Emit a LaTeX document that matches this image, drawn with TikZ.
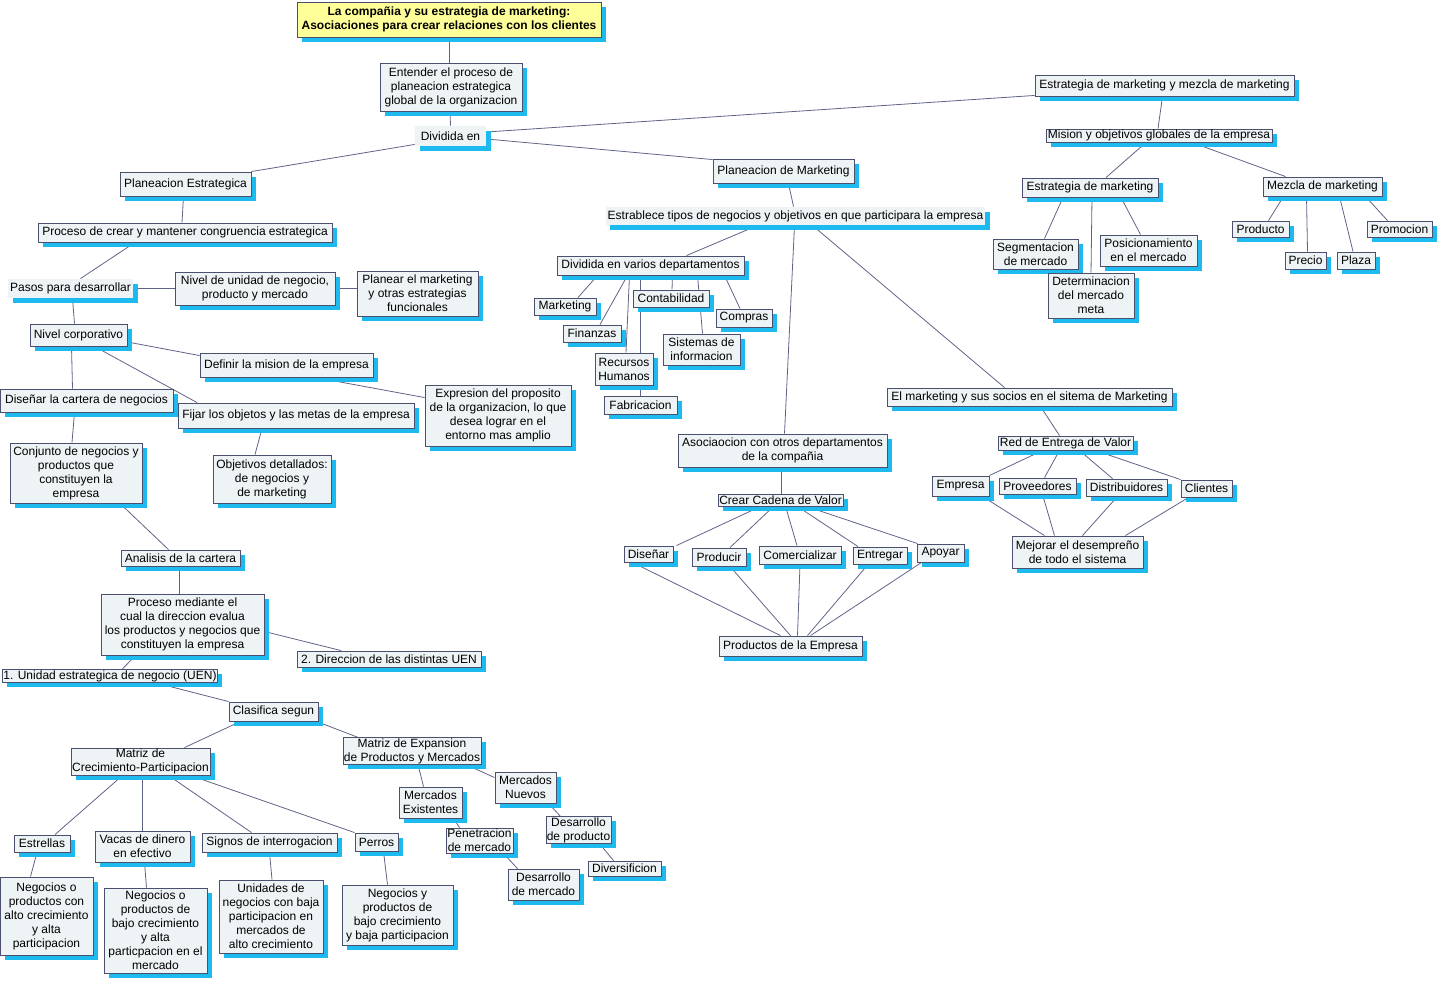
\documentclass[tikz,border=0pt]{standalone}
\usepackage{fontspec}
\setmainfont{Liberation Sans}
\usetikzlibrary{shadows,backgrounds}
\definecolor{shadowcol}{RGB}{28,186,238}
\definecolor{bordercol}{RGB}{75,80,110}
\definecolor{fillcol}{RGB}{238,243,246}
\definecolor{linecol}{RGB}{95,100,135}
\definecolor{titlefill}{RGB}{255,255,153}
\tikzset{
  cbox/.style={draw=bordercol, line width=0.9pt, fill=fillcol,
    drop shadow={shadow xshift=4.5pt, shadow yshift=-4.5pt, fill=shadowcol, opacity=1},
    inner sep=2pt, align=center, font=\fontsize{12}{14}\selectfont},
  tightbox/.style={cbox, inner sep=0.6pt},
  linkp/.style={cbox, draw=none},
  titlebox/.style={cbox, fill=titlefill, font=\bfseries\fontsize{12}{14}\selectfont},
  wh/.style n args={2}{minimum width=#1pt, minimum height=#2pt},
  conn/.style={draw=linecol, line width=0.8pt}
}
\newcommand\cmlink[4]{\draw[conn] ([xshift=#2pt]#1.south) -- ([xshift=#4pt]#3.north);}
\begin{document}
\begin{tikzpicture}[x=1pt,y=-1pt]
\useasboundingbox (0,0) rectangle (1439,980);
% ---- top
\node[titlebox, wh={304}{35}] (title) at (449,19.5) {La compañia y su estrategia de marketing:\\Asociaciones para crear relaciones con los clientes};
\node[cbox, wh={142}{48}] (ent) at (451,87) {Entender el proceso de\\planeacion estrategica\\global de la organizacion};
\node[linkp, wh={71}{20}] (div) at (450.5,136) {Dividida en};
% ---- right top
\node[cbox, wh={259}{21}] (emm) at (1164.5,85.5) {Estrategia de marketing y mezcla de marketing};
\node[tightbox, wh={226}{13}] (mis) at (1159,135.5) {Mision y objetivos globales de la empresa};
\node[cbox, wh={136}{19}] (estmk) at (1090,187.5) {Estrategia de marketing};
\node[cbox, wh={119}{19}] (mez) at (1322.5,186.5) {Mezcla de marketing};
\node[cbox, wh={85}{30}] (seg) at (1035.5,254) {Segmentacion\\de mercado};
\node[cbox, wh={86}{45}] (det) at (1091,295.5) {Determinacion\\del mercado\\meta};
\node[cbox, wh={97}{31}] (pos) at (1148.5,250.5) {Posicionamiento\\en el mercado};
\node[cbox, wh={57}{16}] (prod) at (1260.5,229) {Producto};
\node[cbox, wh={41}{17}] (prec) at (1305.5,260.5) {Precio};
\node[cbox, wh={38}{17}] (plaza) at (1356,260.5) {Plaza};
\node[cbox, wh={65}{16}] (promo) at (1399.5,229) {Promocion};
% ---- left
\node[cbox, wh={131}{24}] (pe) at (185.5,184) {Planeacion Estrategica};
\node[cbox, wh={294}{19}] (proc) at (185,232.5) {Proceso de crear y mantener congruencia estrategica};
\node[linkp, wh={125}{19}] (pasos) at (70.5,288.5) {Pasos para desarrollar};
\node[cbox, wh={160}{33}] (niv) at (255,288.5) {Nivel de unidad de negocio,\\producto y mercado};
\node[cbox, wh={121}{45}] (plan) at (417.5,293.5) {Planear el marketing\\y otras estrategias\\funcionales};
\node[cbox, wh={97}{22}] (ncorp) at (78.5,335) {Nivel corporativo};
\node[cbox, wh={173}{24}] (def) at (286.5,365) {Definir la mision de la empresa};
\node[cbox, wh={146}{61}] (expr) at (498,415.5) {Expresion del proposito\\de la organizacion, lo que\\desea lograr en el\\entorno mas amplio};
\node[cbox, wh={173}{23}] (dis) at (86.5,400.5) {Diseñar la cartera de negocios};
\node[cbox, wh={236}{25}] (fij) at (296,415.5) {Fijar los objetos y las metas de la empresa};
\node[cbox, wh={132}{60}] (conj) at (76,473) {Conjunto de negocios y\\productos que\\constituyen la\\empresa};
\node[cbox, wh={118}{48}] (obj) at (272,479) {Objetivos detallados:\\de negocios y\\de marketing};
\node[cbox, wh={119}{16}] (anal) at (180.5,558) {Analisis de la cartera};
\node[cbox, wh={163}{61}] (pmed) at (182.5,624.5) {Proceso mediante el\\cual la direccion evalua\\los productos y negocios que\\constituyen la empresa};
\node[cbox, wh={184}{16}] (dir) at (389,659) {2. Direccion de las distintas UEN};
\node[tightbox, wh={214}{12}] (uen) at (110,676) {1. Unidad estrategica de negocio (UEN)};
\node[cbox, wh={89}{19}] (clas) at (273.5,711.5) {Clasifica segun};
\node[tightbox, wh={139}{27}] (mcp) at (140.5,761.5) {Matriz de\\Crecimiento-Participacion};
\node[tightbox, wh={138}{26}] (mexp) at (412,751) {Matriz de Expansion\\de Productos y Mercados};
\node[cbox, wh={63}{31}] (mex) at (430.5,802.5) {Mercados\\Existentes};
\node[cbox, wh={61}{31}] (mnu) at (525.5,787.5) {Mercados\\Nuevos};
\node[tightbox, wh={67}{25}] (pen) at (479.5,840.5) {Penetracion\\de mercado};
\node[tightbox, wh={65}{26}] (dprod) at (578.5,830) {Desarrollo\\de producto};
\node[cbox, wh={71}{31}] (dmer) at (543.5,884.5) {Desarrollo\\de mercado};
\node[cbox, wh={73}{15}] (diver) at (624.5,868.5) {Diversificion};
\node[cbox, wh={56}{17}] (estr) at (42,843.5) {Estrellas};
\node[cbox, wh={95}{31}] (vac) at (142.5,846.5) {Vacas de dinero\\en efectivo};
\node[cbox, wh={135}{19}] (sig) at (269.5,842.5) {Signos de interrogacion};
\node[cbox, wh={43}{18}] (per) at (376.5,842) {Perros};
\node[cbox, wh={93}{78}] (na) at (46.5,916) {Negocios o\\productos con\\alto crecimiento\\y alta\\participacion};
\node[cbox, wh={103}{85}] (nb) at (155.5,930.5) {Negocios o\\productos de\\bajo crecimiento\\y alta\\particpacion en el\\mercado};
\node[cbox, wh={104}{73}] (nc) at (271,916.5) {Unidades de\\negocios con baja\\participacion en\\mercados de\\alto crecimiento};
\node[cbox, wh={111}{60}] (nd) at (397.5,915) {Negocios y\\productos de\\bajo crecimiento\\y baja participacion};
% ---- middle
\node[cbox, wh={141}{24}] (pmk) at (783.5,171) {Planeacion de Marketing};
\node[linkp, wh={379}{18}] (estb) at (795.5,216) {Estrablece tipos de negocios y objetivos en que participara la empresa};
\node[cbox, wh={187}{19}] (dep) at (650.5,265.5) {Dividida en varios departamentos};
\node[cbox, wh={62}{17}] (mkt) at (565,306.5) {Marketing};
\node[cbox, wh={58}{17}] (fin) at (592,333.5) {Finanzas};
\node[cbox, wh={76}{17}] (cont) at (671,298.5) {Contabilidad};
\node[cbox, wh={56}{18}] (comp) at (744,318) {Compras};
\node[cbox, wh={58}{32}] (rh) at (624,369) {Recursos\\Humanos};
\node[cbox, wh={77}{31}] (sis) at (701.5,349.5) {Sistemas de\\informacion};
\node[cbox, wh={73}{18}] (fab) at (640.5,405) {Fabricacion};
\node[cbox, wh={209}{33}] (asoc) at (782.5,450.5) {Asociaocion con otros departamentos\\de la compañia};
\node[tightbox, wh={125}{12}] (ccv) at (780.5,500) {Crear Cadena de Valor};
\node[cbox, wh={49}{16}] (dsn) at (648.5,554) {Diseñar};
\node[cbox, wh={54}{18}] (pdc) at (719,557) {Producir};
\node[cbox, wh={82}{18}] (com) at (800,555) {Comercializar};
\node[cbox, wh={54}{17}] (entg) at (880,555.5) {Entregar};
\node[cbox, wh={47}{18}] (apo) at (940.5,553) {Apoyar};
\node[cbox, wh={143}{20}] (pde) at (790.5,646) {Productos de la Empresa};
% ---- right middle
\node[cbox, wh={285}{18}] (soc) at (1029.5,397) {El marketing y sus socios en el sitema de Marketing};
\node[tightbox, wh={135}{14}] (red) at (1065.5,443) {Red de Entrega de Valor};
\node[cbox, wh={57}{20}] (emp) at (960.5,486) {Empresa};
\node[cbox, wh={77}{16}] (prov) at (1037.5,486) {Proveedores};
\node[cbox, wh={81}{17}] (dist) at (1126.5,487.5) {Distribuidores};
\node[cbox, wh={51}{17}] (cli) at (1206.5,488.5) {Clientes};
\node[cbox, wh={131}{32}] (mej) at (1077.5,552) {Mejorar el desempreño\\de todo el sistema};

\begin{pgfonlayer}{background}
\cmlink{title}{0}{ent}{-2}
\cmlink{ent}{-1}{div}{0}
\draw[conn] ([yshift=2pt]div.south west) -- (pe.north east);
\draw[conn] ([yshift=-3pt]div.east) -- ([yshift=-1pt]pmk.north west);
\draw[conn] ([yshift=4pt]div.east) -- ([yshift=1pt]emm.south west);
% right top
\cmlink{emm}{-2}{mis}{-1}
\cmlink{mis}{-13}{estmk}{16}
\cmlink{mis}{33}{mez}{-37}
\cmlink{estmk}{-27}{seg}{9}
\cmlink{estmk}{2}{det}{0}
\cmlink{estmk}{31}{pos}{-8}
\cmlink{mez}{-39}{prod}{8}
\cmlink{mez}{-16}{prec}{2}
\cmlink{mez}{17}{plaza}{-3}
\cmlink{mez}{43}{promo}{-12}
% left
\cmlink{pe}{-2}{proc}{-3}
\cmlink{proc}{-50}{pasos}{10}
\draw[conn] (pasos.east) -- (niv.west);
\draw[conn] (niv.east) -- (niv.east -| plan.west);
\cmlink{pasos}{2}{ncorp}{-4}
\draw[conn] ([yshift=-7pt]ncorp.east) -- ([yshift=-3pt]def.north west);
\cmlink{ncorp}{16}{fij}{-99}
\cmlink{ncorp}{-7}{dis}{-14}
\draw[conn] ([xshift=29pt]def.south) -- ([yshift=-13pt]expr.north west);
\cmlink{fij}{-34}{obj}{-17}
\cmlink{dis}{-12}{conj}{-4}
\cmlink{conj}{44}{anal}{-12}
\cmlink{anal}{-1}{pmed}{-3}
\draw[conn] ([yshift=-7pt]pmed.east) -- ([xshift=-48pt]dir.north);
\cmlink{pmed}{-47}{uen}{12}
\draw[conn] ([xshift=45pt]uen.south) -- (clas.north west);
\cmlink{clas}{-33}{mcp}{44}
\cmlink{clas}{43}{mexp}{-54}
\cmlink{mcp}{-18}{estr}{13}
\cmlink{mcp}{2}{vac}{0}
\cmlink{mcp}{28}{sig}{-18}
\draw[conn] ([xshift=50pt]mcp.south) -- (per.north west);
\cmlink{estr}{-5}{na}{-16}
\cmlink{vac}{2}{nb}{-9}
\cmlink{sig}{0}{nc}{1}
\cmlink{per}{7}{nd}{-10}
\cmlink{mexp}{6}{mex}{-7}
\draw[conn] ([xshift=54pt]mexp.south) -- ([yshift=-6pt]mnu.north west);
\cmlink{mex}{23}{pen}{-20}
\cmlink{pen}{24}{dmer}{-26}
\cmlink{mnu}{23}{dprod}{-18}
\cmlink{dprod}{21}{diver}{-11}
% middle
\cmlink{pmk}{5}{estb}{-2}
\cmlink{estb}{-38}{dep}{36}
\cmlink{estb}{-1}{asoc}{2}
\cmlink{estb}{17}{soc}{-25}
\cmlink{dep}{-53}{mkt}{13}
\cmlink{dep}{-23}{fin}{8}
\cmlink{dep}{-21}{rh}{2}
\cmlink{dep}{22}{cont}{1}
\cmlink{dep}{-10}{fab}{0}
\cmlink{dep}{47}{sis}{1}
\cmlink{dep}{74}{comp}{-4}
\cmlink{asoc}{-1}{ccv}{1}
\cmlink{ccv}{-20}{dsn}{28}
\cmlink{ccv}{-7}{pdc}{11}
\cmlink{ccv}{5}{com}{-3}
\cmlink{ccv}{17}{entg}{-22}
\cmlink{ccv}{26}{apo}{-23}
\cmlink{dsn}{-16}{pde}{-10}
\cmlink{pdc}{11}{pde}{0}
\cmlink{com}{0}{pde}{7}
\cmlink{entg}{-12}{pde}{17}
\cmlink{apo}{-19}{pde}{20}
% right middle
\cmlink{soc}{11}{red}{-6}
\draw[conn] ([xshift=-23pt]red.south) -- (emp.north east);
\cmlink{red}{-6}{prov}{7}
\cmlink{red}{14}{dist}{-14}
\draw[conn] ([xshift=30pt]red.south) -- (cli.north west);
\cmlink{emp}{22}{mej}{-33}
\cmlink{prov}{5}{mej}{-23}
\cmlink{dist}{-9}{mej}{5}
\cmlink{cli}{-18}{mej}{48}
\end{pgfonlayer}
\end{tikzpicture}
\end{document}
